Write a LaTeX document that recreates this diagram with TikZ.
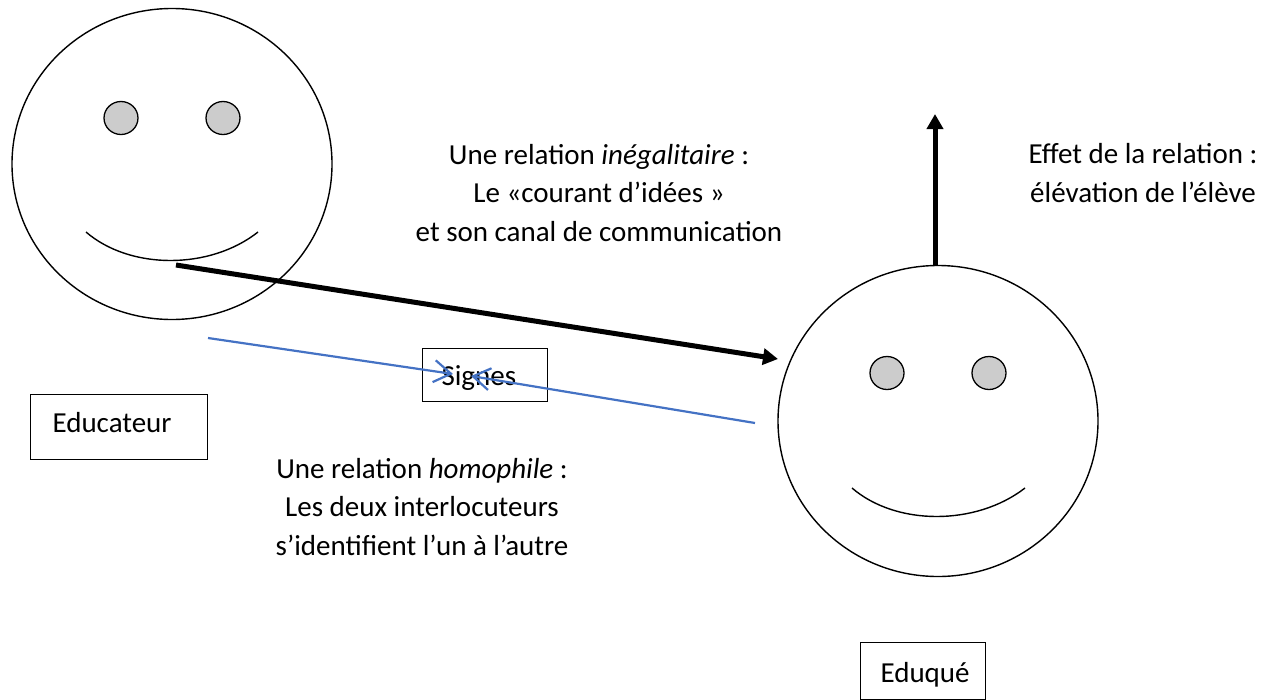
\documentclass[tikz,border=0pt]{standalone}
\usepackage{fontspec}
\setmainfont{Carlito}
\usetikzlibrary{arrows.meta,shapes.geometric}
\definecolor{lk}{HTML}{4472C4}
\begin{document}
\begin{tikzpicture}[x=1pt,y=-1pt,
 face/.style={draw=black,line width=1.4pt,ellipse,minimum width=320pt,minimum height=311pt,inner sep=0pt},
 eye/.style={draw=black,fill=black!20,line width=1.3pt,ellipse,minimum width=34pt,minimum height=33pt,inner sep=0pt},
 box/.style={draw=black,line width=1pt,inner sep=0pt,anchor=north west},
 mouth/.style={line width=1.4pt},
 lab/.style={font=\fontsize{29}{38.5}\selectfont,align=center,text=black},
 boxlab/.style={font=\fontsize{29}{34}\selectfont,anchor=west,text=black},
 bigarrow/.style={line width=5pt,-{Triangle[length=15pt,width=16pt]}},
 bluearrow/.style={draw=lk,line width=2.2pt,-{Straight Barb[length=17pt,width=22pt]}}]
\useasboundingbox (0,0) rectangle (1277,699);
\node[face] (f1) at (172,164) {};
\node[eye] (e1) at (121,118) {};
\node[eye] (e2) at (223,118) {};
\draw[mouth] (86,232) .. controls (130,270) and (210,270) .. (258,232);
\node[face] (f2) at (938,421) {};
\node[eye] (e3) at (887,373) {};
\node[eye] (e4) at (989,373) {};
\draw[mouth] (852,488) .. controls (896,526) and (976,526) .. (1025,488);
\node[box,minimum width=177pt,minimum height=65pt] (b1) at (30,394) {};
\node[boxlab] (t1) at (49,423) {Educateur};
\node[box,minimum width=125pt,minimum height=53pt] (b2) at (422,348) {};
\node[box,minimum width=125pt,minimum height=57pt] (b3) at (860,642) {};
\node[boxlab] (t3) at (877,675) {Eduqué};
\node[boxlab] (t2) at (438,378) {Signes};
\coordinate (a0) at (176,265);
\coordinate (a1) at (778,359);
\draw[bigarrow] (a0) -- (a1);
\coordinate (u0) at (935,265);
\coordinate (u1) at (935,114);
\draw[bigarrow] (u0) -- (u1);
\coordinate (l0) at (208,338);
\coordinate (l1) at (755,423);
\coordinate (m0) at (453,374);
\coordinate (m1) at (471,376);
\draw[bluearrow] (l0) -- (m0);
\draw[bluearrow] (l1) -- (m1);
\node[lab] (c1) at (599,193) {Une relation \textit{inégalitaire} :\\Le «courant d’idées »\\et son canal de communication};
\node[lab] (c2) at (1143,173) {Effet de la relation :\\élévation de l’élève};
\node[lab] (c3) at (422,507) {Une relation \textit{homophile} :\\Les deux interlocuteurs\\s’identifient l’un à l’autre};
\end{tikzpicture}
\end{document}
